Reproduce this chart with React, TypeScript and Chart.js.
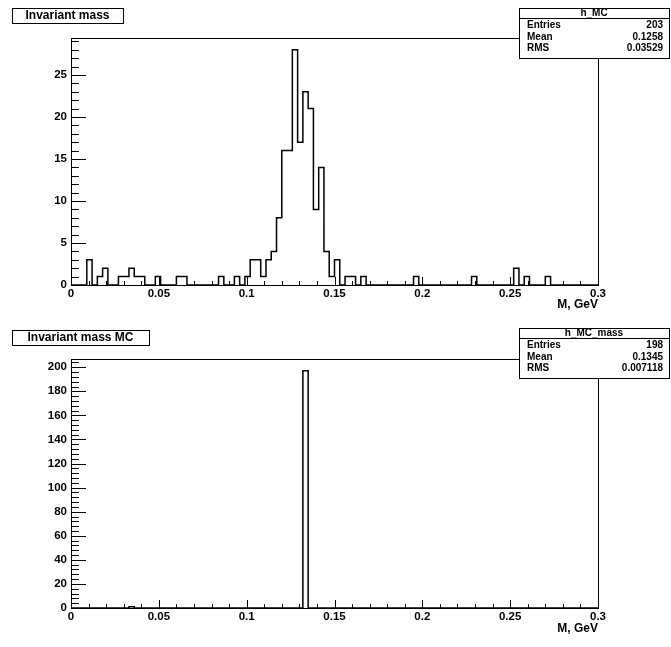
import React, { useEffect, useRef } from 'react';
import { Chart, registerables } from 'chart.js';

Chart.register(...registerables);

// histogram binning: 100 bins on [0, 0.3]
const X_MIN = 0;
const X_MAX = 0.3;
const N_BINS = 100;

// h_MC, counts per bin
const massCounts = [
  0, 0, 0, 3, 0, 1, 2, 0, 0, 1,
  1, 2, 1, 1, 0, 0, 1, 0, 0, 0,
  1, 1, 0, 0, 0, 0, 0, 0, 1, 0,
  0, 1, 0, 1, 3, 3, 1, 3, 4, 8,
  16, 16, 28, 17, 23, 21, 9, 14, 4, 1,
  3, 0, 1, 1, 0, 1, 0, 0, 0, 0,
  0, 0, 0, 0, 0, 1, 0, 0, 0, 0,
  0, 0, 0, 0, 0, 0, 1, 0, 0, 0,
  0, 0, 0, 0, 2, 0, 1, 0, 0, 0,
  1, 0, 0, 0, 0, 0, 0, 0, 0, 0,
];

// h_MC_mass, counts per bin (lower pad)
const mcMassCounts = [
  0, 0, 0, 0, 0, 0, 0, 0, 0, 0,
  0, 1, 0, 0, 0, 0, 0, 0, 0, 0,
  0, 0, 0, 0, 0, 0, 0, 0, 0, 0,
  0, 0, 0, 0, 0, 0, 0, 0, 0, 0,
  0, 0, 0, 0, 197, 0, 0, 0, 0, 0,
  0, 0, 0, 0, 0, 0, 0, 0, 0, 0,
  0, 0, 0, 0, 0, 0, 0, 0, 0, 0,
  0, 0, 0, 0, 0, 0, 0, 0, 0, 0,
  0, 0, 0, 0, 0, 0, 0, 0, 0, 0,
  0, 0, 0, 0, 0, 0, 0, 0, 0, 0,
];

const xTicks = [0, 0.05, 0.1, 0.15, 0.2, 0.25, 0.3];
const massYTicks = [0, 5, 10, 15, 20, 25];
const mcYTicks = [0, 20, 40, 60, 80, 100, 120, 140, 160, 180, 200];

const massStats = [
  ['Entries', '203'],
  ['Mean', '0.1258'],
  ['RMS', '0.03529'],
];
const mcStats = [
  ['Entries', '198'],
  ['Mean', '0.1345'],
  ['RMS', '0.007118'],
];

const FONT = "'Liberation Sans', Arial, Helvetica, sans-serif";
const W = 671;
const FRAME_RIGHT = 598;
const FRAME_BOTTOM = 285;

interface PadProps {
  counts: number[];
  yMax: number;
  yTicks: number[];
  yMinorStep: number;
  title: string;
  titleW: number;
  titleY: number;
  statsName: string;
  stats: string[][];
  statsY: number;
  frameTop: number;
  height: number;
}

const makePadPlugin = (p: PadProps) => ({
  id: 'rootPad',
  afterDraw(chart: Chart) {
    const { ctx, chartArea: a, scales } = chart;
    const xs = scales.x;
    const ys = scales.y;
    ctx.save();
    ctx.strokeStyle = '#000';
    ctx.fillStyle = '#000';
    ctx.lineWidth = 1;

    // frame
    const l = Math.round(a.left) + 0.5;
    const t = Math.round(a.top) + 0.5;
    ctx.strokeRect(l, t, Math.round(a.right - a.left), Math.round(a.bottom - a.top));

    ctx.beginPath();
    // x ticks, pointing inward, minor every 0.01
    const nx = Math.round((X_MAX - X_MIN) / 0.01);
    for (let i = 0; i <= nx; i++) {
      const px = Math.round(xs.getPixelForValue(X_MIN + i * 0.01)) + 0.5;
      const len = i % 5 === 0 ? 8 : 4;
      ctx.moveTo(px, a.bottom);
      ctx.lineTo(px, a.bottom - len);
    }
    // y ticks, 4 minor between majors
    const ny = Math.floor(p.yMax / p.yMinorStep + 1e-9);
    for (let j = 0; j <= ny; j++) {
      const py = Math.round(ys.getPixelForValue(j * p.yMinorStep)) + 0.5;
      const len = j % 5 === 0 ? 15 : 8;
      ctx.moveTo(a.left, py);
      ctx.lineTo(a.left + len, py);
    }
    ctx.stroke();

    // title box
    ctx.fillStyle = '#fff';
    ctx.fillRect(12.5, p.titleY + 0.5, p.titleW, 15);
    ctx.strokeRect(12.5, p.titleY + 0.5, p.titleW, 15);
    ctx.fillStyle = '#000';
    ctx.font = `bold 12px ${FONT}`;
    ctx.textAlign = 'center';
    ctx.textBaseline = 'middle';
    ctx.fillText(p.title, 12 + p.titleW / 2, p.titleY + 8);

    // stats box, white filled so the frame line stays behind it
    const sx = 519;
    const sw = 150;
    const sy = p.statsY;
    ctx.fillStyle = '#fff';
    ctx.fillRect(sx + 0.5, sy + 0.5, sw, 50);
    ctx.strokeRect(sx + 0.5, sy + 0.5, sw, 50);
    ctx.beginPath();
    ctx.moveTo(sx, sy + 10.5);
    ctx.lineTo(sx + sw, sy + 10.5);
    ctx.stroke();
    ctx.fillStyle = '#000';
    ctx.font = `bold 10px ${FONT}`;
    ctx.fillText(p.statsName, sx + sw / 2, sy + 5.5);
    p.stats.forEach(([k, v], i) => {
      const yy = sy + 17.5 + i * 11.5;
      ctx.textAlign = 'left';
      ctx.fillText(k, sx + 8, yy);
      ctx.textAlign = 'right';
      ctx.fillText(v, sx + sw - 6, yy);
    });
    ctx.restore();
  },
});

const HistPad: React.FC<PadProps> = (p) => {
  const canvasRef = useRef<HTMLCanvasElement | null>(null);
  const chartRef = useRef<Chart | null>(null);

  useEffect(() => {
    if (!canvasRef.current) return;
    chartRef.current?.destroy();

    const binW = (X_MAX - X_MIN) / N_BINS;
    const points = p.counts.map((c, i) => ({ x: X_MIN + i * binW, y: c }));
    points.push({ x: X_MAX, y: p.counts[p.counts.length - 1] });

    const tickFont = { family: FONT, size: 11.5, weight: 'bold' as const };

    chartRef.current = new Chart(canvasRef.current, {
      type: 'line',
      data: {
        datasets: [
          {
            data: points,
            stepped: 'before',
            borderColor: '#000',
            borderWidth: 1.5,
            pointRadius: 0,
            fill: false,
          },
        ],
      },
      options: {
        responsive: false,
        animation: false,
        events: [],
        layout: { padding: { top: p.frameTop, right: W - FRAME_RIGHT, left: 0, bottom: 0 } },
        plugins: {
          legend: { display: false },
          title: { display: false },
          tooltip: { enabled: false },
        },
        scales: {
          x: {
            type: 'linear',
            min: X_MIN,
            max: X_MAX,
            grid: { display: false, drawTicks: false },
            border: { display: false },
            afterBuildTicks: (s: any) => {
              s.ticks = xTicks.map((v) => ({ value: v }));
            },
            afterFit: (s: any) => {
              s.height = p.height - FRAME_BOTTOM;
            },
            ticks: {
              color: '#000',
              padding: 2,
              font: tickFont,
              maxRotation: 0,
              autoSkip: false,
              callback: (v: any) => String(v),
            },
            title: {
              display: true,
              text: 'M, GeV',
              align: 'end',
              color: '#000',
              font: { ...tickFont, size: 12 },
              padding: { top: 0, bottom: 11 },
            },
          },
          y: {
            type: 'linear',
            min: 0,
            max: p.yMax,
            grid: { display: false, drawTicks: false },
            border: { display: false },
            afterBuildTicks: (s: any) => {
              s.ticks = p.yTicks.map((v) => ({ value: v }));
            },
            afterFit: (s: any) => {
              s.width = 71;
            },
            ticks: {
              color: '#000',
              padding: 4,
              font: tickFont,
              autoSkip: false,
            },
          },
        },
      },
      plugins: [makePadPlugin(p)],
    });

    return () => {
      chartRef.current?.destroy();
      chartRef.current = null;
    };
  }, [p]);

  return <canvas ref={canvasRef} width={W} height={p.height} style={{ display: 'block' }} />;
};

const topPad: PadProps = {
  counts: massCounts,
  yMax: 29.4,
  yTicks: massYTicks,
  yMinorStep: 1,
  title: 'Invariant mass',
  titleW: 111,
  titleY: 8,
  statsName: 'h_MC',
  stats: massStats,
  statsY: 8,
  frameTop: 38,
  height: 323,
};

const bottomPad: PadProps = {
  counts: mcMassCounts,
  yMax: 206.85,
  yTicks: mcYTicks,
  yMinorStep: 4,
  title: 'Invariant mass MC',
  titleW: 137,
  titleY: 7,
  statsName: 'h_MC_mass',
  stats: mcStats,
  statsY: 5,
  frameTop: 36,
  height: 324,
};

export default function App() {
  return (
    <div style={{ position: 'absolute', left: 0, top: 0, width: W, height: 647, background: '#fff' }}>
      <HistPad {...topPad} />
      <HistPad {...bottomPad} />
    </div>
  );
}
